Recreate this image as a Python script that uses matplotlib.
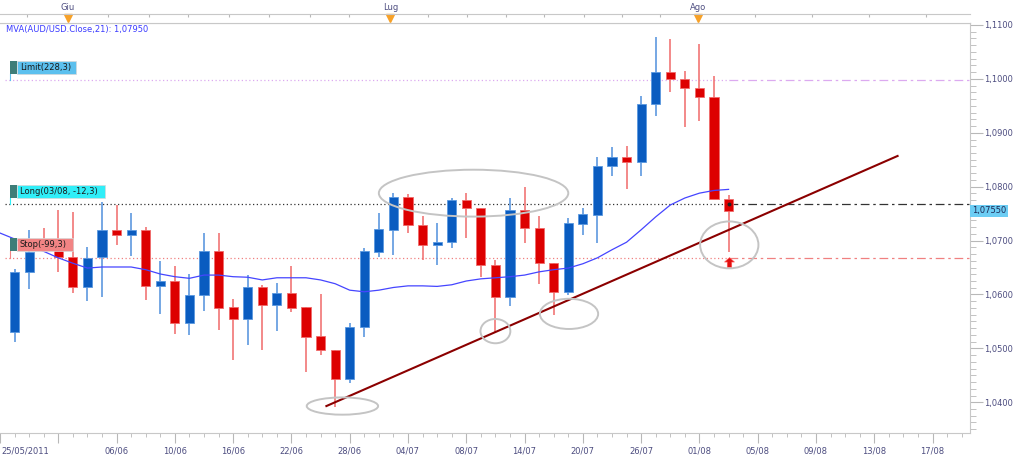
"""
AUD/USD daily candles with MVA(21), trendline and order levels
"""

import matplotlib.pyplot as plt
import numpy as np
import pandas as pd
from matplotlib.patches import Ellipse, Rectangle
from matplotlib.path import Path

# trading days, index 0 = 25/05/2011 (first candle drawn is 26/05)
days = pd.bdate_range("2011-05-25", "2011-08-03")

opens = [1.0531, 1.0642, 1.0700, 1.0683, 1.0670, 1.0613, 1.0669, 1.0719, 1.0710, 1.0720,
         1.0616, 1.0625, 1.0547, 1.0599, 1.0681, 1.0576, 1.0555, 1.0613, 1.0580, 1.0603,
         1.0576, 1.0523, 1.0497, 1.0443, 1.0539, 1.0679, 1.0720, 1.0780, 1.0729, 1.0692,
         1.0697, 1.0775, 1.0761, 1.0655, 1.0595, 1.0757, 1.0723, 1.0658, 1.0605, 1.0731,
         1.0748, 1.0839, 1.0855, 1.0845, 1.0953, 1.1013, 1.0999, 1.0984, 1.0967, 1.0777]
highs = [1.0647, 1.0720, 1.0724, 1.0757, 1.0753, 1.0689, 1.0772, 1.0766, 1.0752, 1.0725,
         1.0663, 1.0653, 1.0638, 1.0715, 1.0714, 1.0591, 1.0636, 1.0618, 1.0621, 1.0652,
         1.0577, 1.0601, 1.0497, 1.0547, 1.0686, 1.0751, 1.0789, 1.0787, 1.0746, 1.0733,
         1.0779, 1.0788, 1.0761, 1.0664, 1.0779, 1.0799, 1.0746, 1.0658, 1.0741, 1.0760,
         1.0856, 1.0874, 1.0876, 1.0968, 1.1078, 1.1074, 1.1015, 1.1064, 1.1006, 1.0785]
lows = [1.0511, 1.0610, 1.0682, 1.0642, 1.0602, 1.0588, 1.0595, 1.0692, 1.0672, 1.0589,
        1.0564, 1.0526, 1.0524, 1.0569, 1.0535, 1.0479, 1.0506, 1.0497, 1.0533, 1.0567,
        1.0456, 1.0487, 1.0392, 1.0436, 1.0521, 1.0669, 1.0673, 1.0714, 1.0664, 1.0654,
        1.0686, 1.0704, 1.0632, 1.0531, 1.0579, 1.0695, 1.0620, 1.0562, 1.0599, 1.0710,
        1.0695, 1.0820, 1.0795, 1.0820, 1.0932, 1.0975, 1.0910, 1.0922, 1.0777, 1.0679]
closes = [1.0642, 1.0678, 1.0690, 1.0669, 1.0613, 1.0668, 1.0719, 1.0710, 1.0720, 1.0616,
          1.0625, 1.0547, 1.0599, 1.0681, 1.0574, 1.0555, 1.0613, 1.0580, 1.0603, 1.0574,
          1.0522, 1.0497, 1.0443, 1.0540, 1.0680, 1.0721, 1.0780, 1.0729, 1.0692, 1.0698,
          1.0775, 1.0761, 1.0654, 1.0595, 1.0757, 1.0723, 1.0658, 1.0605, 1.0732, 1.0749,
          1.0839, 1.0855, 1.0845, 1.0953, 1.1013, 1.0999, 1.0984, 1.0967, 1.0777, 1.0755]

# MVA(21) on close, index 0..50
ma21 = [1.0714, 1.0703, 1.0691, 1.0680, 1.0668, 1.0658, 1.0649, 1.0651, 1.0651, 1.0651,
        1.0646, 1.0638, 1.0633, 1.0630, 1.0636, 1.0636, 1.0633, 1.0632, 1.0627, 1.0631,
        1.0631, 1.0631, 1.0627, 1.0620, 1.0608, 1.0605, 1.0608, 1.0613, 1.0616, 1.0616,
        1.0615, 1.0618, 1.0625, 1.0629, 1.0631, 1.0633, 1.0636, 1.0642, 1.0646, 1.0649,
        1.0657, 1.0668, 1.0683, 1.0697, 1.0720, 1.0744, 1.0766, 1.0779, 1.0788, 1.0793, 1.0795]

# order levels and annotations
limit_price, long_price, stop_price, last_price = 1.09974, 1.07673, 1.06683, 1.0755
entry_idx, entry_arrow = 50, 1.0661
trend_x = [22.4, 61.6]
trend_y = [1.0393, 1.0857]
# (day index, price, width in days, height in price)
circles = [(23.5, 1.0393, 4.9, 0.0032), (32.5, 1.0788, 13.0, 0.0087),
           (34.0, 1.0532, 2.05, 0.0045), (39.05, 1.0564, 4.0, 0.0056),
           (50.05, 1.0692, 4.0, 0.0087)]
months = ["Giu", "Lug", "Ago"]
month_idx = [5, 27, 48]

W, H = 1024, 462
XMIN, XMAX = 0.355, 66.57
YMIN, YMAX = 1.0343, 1.11037
PX = (YMAX - YMIN) / 410  # price per pixel
LABEL = "#4d4d80"

fig = plt.figure(figsize=(W / 100, H / 100), dpi=100)
ax = fig.add_axes([0, 29 / H, 970 / W, 410 / H])
ax.set_xlim(XMIN, XMAX)
ax.set_ylim(YMIN, YMAX)

# candles
idx = np.arange(1, len(opens) + 1)
o, h, l, c = map(np.array, (opens, highs, lows, closes))
up = c >= o
body_col = np.where(up, "#0a5cc0", "#dd0000")
edge_col = np.where(up, "#5a98e0", "#f06a6a")
wick_col = np.where(up, "#4f8fdc", "#f06a6a")
ax.vlines(idx, l, h, colors=wick_col, lw=1.1, zorder=2)
ax.bar(idx, np.abs(c - o), bottom=np.minimum(o, c), width=0.62,
       color=body_col, edgecolor=edge_col, linewidth=0.6, zorder=3)

# moving average
ax.plot(np.arange(len(ma21)), ma21, color="#4545ff", lw=0.9, zorder=4)

# trendline
ax.plot(trend_x, trend_y, color="#8b0000", lw=1.5, zorder=5)

# order levels: dotted up to the last bar, dash-dot beyond
for price, col in [(limit_price, "#dcaaf0"), (long_price, "#333333"), (stop_price, "#f08080")]:
    ax.plot([XMIN, entry_idx], [price, price], color=col, lw=0.9, ls=(0, (1, 2)), zorder=1)
    ax.plot([entry_idx, XMAX], [price, price], color=col, lw=0.9, ls=(0, (7, 3, 2, 3)), zorder=1)
ax.plot(entry_idx, long_price, "o", color="#222222", ms=1.8, zorder=6)

arrow = Path([(0, 1), (-1, 0.1), (-0.45, 0.1), (-0.45, -1), (0.45, -1),
              (0.45, 0.1), (1, 0.1), (0, 1)], closed=True)
ax.plot(entry_idx, entry_arrow, marker=arrow, ms=7, color="#e01010",
        mec="#ff5050", mew=0.5, zorder=6)

for cx, cy, cw, ch in circles:
    ax.add_patch(Ellipse((cx, cy), cw, ch, fill=False, ec="#c4c4c4", lw=1.4, zorder=7))

# order tags on the left
ytr = ax.get_yaxis_transform()
for price, text, col, right_px in [(limit_price, "Limit(228,3)", "#5cc0ee", 76),
                                   (long_price, "Long(03/08, -12,3)", "#30eef8", 105),
                                   (stop_price, "Stop(-99,3)", "#f28484", 73)]:
    y0 = price + 6.5 * PX
    hh = 13 * PX
    ax.plot([10 / 970, 10 / 970], [price, y0], transform=ytr, color=col, lw=0.8, zorder=8)
    ax.add_patch(Rectangle((10 / 970, y0), 7 / 970, hh, transform=ytr,
                           fc="#3e7d78", ec="none", zorder=9))
    ax.add_patch(Rectangle((17 / 970, y0), (right_px - 17) / 970, hh, transform=ytr,
                           fc=col, ec="#d8d8d8", lw=0.5, zorder=9))
    ax.text(20 / 970, y0 + hh / 2, text, transform=ytr, va="center", ha="left",
            fontsize=6, color="#1a1a1a", zorder=10)

ax.text(6 / 970, 1 - 6.5 / 410, "MVA(AUD/USD.Close,21): 1,07950", transform=ax.transAxes,
        va="center", ha="left", fontsize=6, color="#3b3bff")

# right price axis
ax.yaxis.tick_right()
yt = np.arange(1.04, 1.1101, 0.01)
ax.set_yticks(yt)
ax.set_yticklabels([f"{v:.4f}".replace(".", ",") for v in yt])
ax.set_yticks(np.arange(1.035, 1.1101, 0.00125), minor=True)
ax.text(1 + 2 / 970, last_price, f"{last_price:.5f}".replace(".", ","), transform=ytr,
        va="center", ha="left", fontsize=6, color="#1e2a55", clip_on=False, zorder=10,
        bbox=dict(boxstyle="square,pad=0.2", fc="#6ccdf4", ec="none"))

# bottom date axis
xt = np.arange(0, 66, 4)
xl = []
for t in xt:
    d = days[t] if t < len(days) else days[-1] + pd.Timedelta(days=int(t) - len(days) + 1)
    xl.append("" if t in (0, 4) else d.strftime("%d/%m"))
ax.set_xticks(xt)
ax.set_xticklabels(xl)
ax.set_xticks(np.arange(0, 67), minor=True)
ax.text(1 / 970, -13 / 410, days[0].strftime("%d/%m/%Y"), transform=ax.transAxes,
        va="top", ha="left", fontsize=6, color=LABEL)

ax.tick_params(which="both", colors="#b8b8b8", labelcolor=LABEL, labelsize=6)
ax.tick_params(axis="y", which="major", length=9, pad=1)
ax.tick_params(axis="y", which="minor", length=4)
ax.tick_params(axis="x", which="major", length=7.5, pad=2)
ax.tick_params(axis="x", which="minor", length=3)
for side, sp in ax.spines.items():
    sp.set_color("#c8c8c8")
ax.spines["left"].set_visible(False)

# top month strip
tax = fig.add_axes([0, (H - 23) / H, 970 / W, 9 / H])
tax.set_xlim(XMIN, XMAX)
tax.set_ylim(0, 1)
tax.set_yticks([])
tax.set_xticks([2.2, 5.0, 7.7, 10.5, 13.2, 16.0, 18.7, 21.5, 24.2, 27.0, 29.6, 32.2,
                34.9, 37.5, 40.2, 42.8, 45.4, 48.1, 51.9, 55.8, 59.7, 63.6])
tax.tick_params(top=True, bottom=False, labeltop=False, labelbottom=False,
                direction="in", length=2, colors="#b8b8b8")
for side in ("left", "right"):
    tax.spines[side].set_visible(False)
for side in ("top", "bottom"):
    tax.spines[side].set_color("#c8c8c8")
tax.plot(month_idx, [0.6] * len(month_idx), "v", color="#f7a128", ms=5.5, clip_on=False)
for name, mi in zip(months, month_idx):
    tax.annotate(name, (mi, 1), xytext=(0, 2), textcoords="offset pixels",
                 ha="center", va="bottom", fontsize=6, color=LABEL, annotation_clip=False)

fig.savefig("out.png", dpi=100)
plt.close(fig)
